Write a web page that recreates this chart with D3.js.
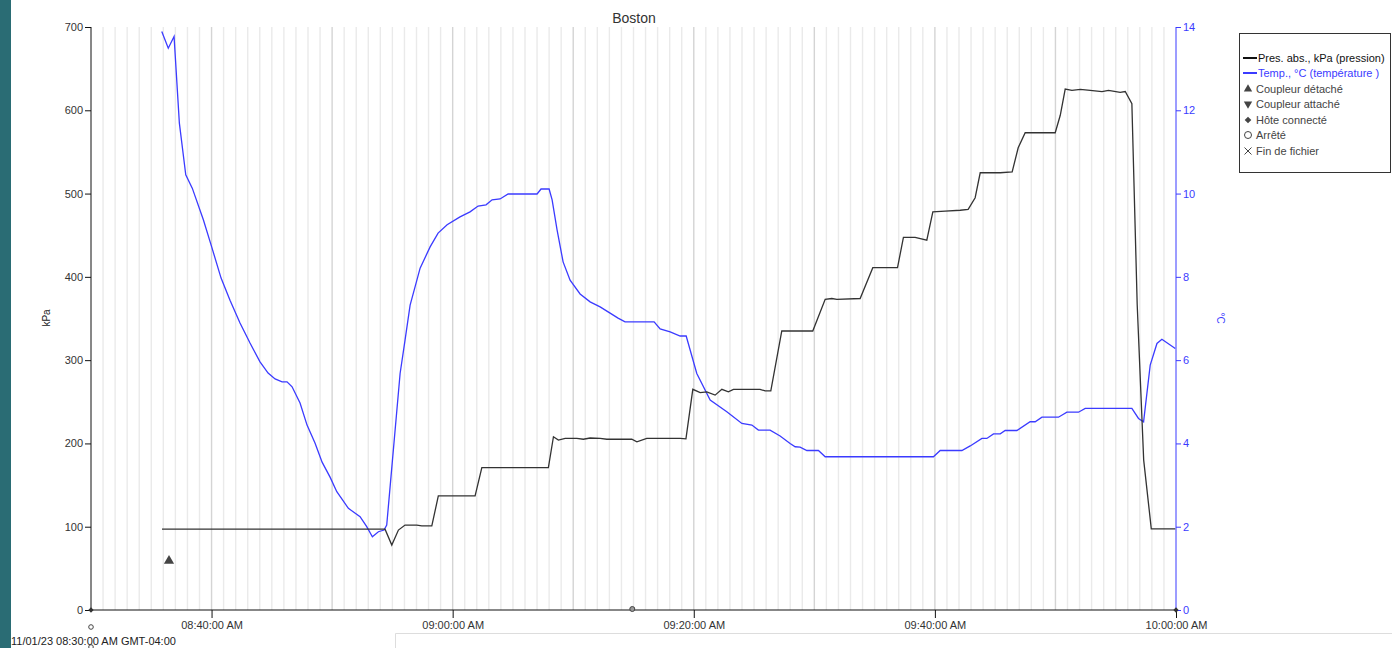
<!DOCTYPE html>
<html><head><meta charset="utf-8">
<script src="https://cdn.jsdelivr.net/npm/d3@7"></script>
<style>
html,body{margin:0;padding:0;background:#fff;}
svg{display:block;font-family:"Liberation Sans",Arial,sans-serif;}
</style></head>
<body>
<svg id="chart" width="1392" height="648"></svg>
<script>
// ---- data (minutes after 08:30:00) ----
const title = "Boston";
const startLabel = "11/01/23 08:30:00 AM GMT-04:00";
const pressureLabel = "kPa";
const tempLabel = "°C";
const legendItems = ["Pres. abs., kPa (pression)", "Temp., °C (température )", "Coupleur détaché", "Coupleur attaché", "Hôte connecté", "Arrêté", "Fin de fichier"];
const xTickLabels = ["08:40:00 AM", "09:00:00 AM", "09:20:00 AM", "09:40:00 AM", "10:00:00 AM"];
const xTickMinutes = [10, 30, 50, 70, 90];
const pTickValues = [0, 100, 200, 300, 400, 500, 600, 700];
const tTickValues = [0, 2, 4, 6, 8, 10, 12, 14];

const pressureTimes = [5.89, 24.39, 24.95, 25.50, 26.05, 27.02, 27.44, 28.27, 28.81, 31.86, 32.42, 37.94, 38.36, 38.77, 39.33, 40.30, 40.84, 41.40, 42.23, 42.79, 44.86, 45.28, 46.10, 48.87, 49.35, 49.92, 50.53, 51.08, 51.77, 52.33, 52.87, 53.29, 55.50, 55.92, 56.39, 57.30, 59.87, 60.90, 61.45, 61.87, 63.80, 64.85, 66.90, 67.39, 68.36, 69.33, 69.83, 70.85, 72.10, 72.76, 73.34, 73.76, 75.42, 76.41, 76.91, 77.49, 79.98, 80.40, 80.81, 81.37, 82.06, 82.88, 83.86, 84.40, 85.37, 85.79, 86.34, 86.78, 87.32, 87.95, 89.94];
const pressureValues = [97, 97, 78, 96, 102, 102, 101, 101, 137, 137, 171, 171, 208, 204, 206, 206, 205, 206.5, 206, 205, 205, 202, 206, 206, 205.5, 265, 261, 262, 258, 265, 262, 265, 265, 263, 263, 335, 335, 373, 374, 373, 374, 411, 411, 447.5, 447.5, 444, 478, 479, 480, 481, 495, 525, 525, 526, 555, 573, 573, 594, 625.5, 624, 625, 624, 622.5, 624, 621.5, 622.5, 608, 367, 180, 97.5, 97.5];

const tempTimes = [5.87, 6.41, 6.89, 7.33, 7.86, 8.40, 9.32, 10.01, 10.79, 11.53, 12.36, 13.19, 14.02, 14.69, 15.27, 15.85, 16.26, 16.68, 17.34, 17.92, 18.58, 19.17, 19.83, 20.39, 21.35, 22.32, 22.87, 23.34, 23.84, 24.31, 24.53, 25.64, 26.05, 26.47, 27.30, 28.13, 28.79, 29.54, 30.61, 31.44, 32.11, 32.77, 33.27, 33.93, 34.60, 37.00, 37.33, 38.00, 38.25, 38.66, 39.16, 39.74, 40.57, 41.40, 42.23, 43.06, 43.72, 44.30, 46.71, 47.21, 48.04, 48.87, 49.37, 50.25, 51.36, 52.74, 53.99, 54.82, 55.36, 56.33, 57.16, 57.99, 58.41, 58.82, 59.38, 60.34, 60.90, 69.88, 70.44, 72.24, 72.93, 73.90, 74.31, 74.86, 75.42, 75.83, 76.80, 77.90, 78.32, 78.88, 80.25, 80.95, 81.91, 82.47, 86.34, 86.89, 87.31, 87.86, 88.42, 88.83, 89.94];
const tempValues = [13.89, 13.49, 13.77, 11.69, 10.45, 10.13, 9.37, 8.72, 7.97, 7.44, 6.89, 6.41, 5.96, 5.69, 5.55, 5.48, 5.48, 5.36, 4.97, 4.44, 4.01, 3.55, 3.19, 2.84, 2.44, 2.24, 2.00, 1.76, 1.88, 1.92, 2.04, 5.68, 6.48, 7.32, 8.21, 8.72, 9.05, 9.25, 9.44, 9.56, 9.70, 9.73, 9.85, 9.87, 9.99, 9.99, 10.11, 10.11, 9.85, 9.13, 8.36, 7.92, 7.59, 7.40, 7.28, 7.13, 7.01, 6.92, 6.92, 6.75, 6.68, 6.58, 6.58, 5.68, 5.04, 4.76, 4.48, 4.44, 4.32, 4.32, 4.18, 4.00, 3.92, 3.91, 3.83, 3.83, 3.68, 3.68, 3.83, 3.83, 3.94, 4.12, 4.12, 4.23, 4.23, 4.31, 4.31, 4.52, 4.52, 4.63, 4.63, 4.75, 4.75, 4.84, 4.84, 4.60, 4.52, 5.88, 6.40, 6.50, 6.28];

const detachTimes = [6.47];
const detachValues = [59];
const stopAxisTimes = [44.9];

// ---- setup ----
const svg = d3.select("#chart");
const t0 = new Date(2023, 10, 1, 8, 30, 0);
const t1 = new Date(2023, 10, 1, 10, 0, 0);
const toDate = m => new Date(t0.getTime() + m * 60000);
const x = d3.scaleTime().domain([t0, t1]).range([91, 1176]);
const yP = d3.scaleLinear().domain([0, 700]).range([610, 27]);
const yT = d3.scaleLinear().domain([0, 14]).range([610, 27]);
const blue = "#3b3bff";
const ink = "#333";

// left teal strip
svg.append("rect").attr("x", 0).attr("y", 0).attr("width", 11).attr("height", 648).attr("fill", "#2a6c74");

// bottom panel border
svg.append("path").attr("d", "M395.5,648 V633.5 H1392").attr("fill", "none").attr("stroke", "#ddd");

// grid (every minute)
const minutes = d3.range(1, 90);
svg.append("g").selectAll("line").data(minutes).join("line")
  .attr("x1", d => x(toDate(d))).attr("x2", d => x(toDate(d)))
  .attr("y1", 27).attr("y2", 610)
  .attr("stroke", d => d % 10 === 0 ? "#d4d4d4" : "#eaeaea")
  .attr("stroke-width", 1.4);

// title
svg.append("text").attr("x", 634).attr("y", 23).attr("text-anchor", "middle")
  .attr("font-size", 14).attr("fill", ink).text(title);

// left axis
const gL = svg.append("g").attr("transform", "translate(91,0)");
gL.call(d3.axisLeft(yP).tickValues(d3.range(0, 701, 10)).tickSize(4).tickFormat(""));
gL.call(d3.axisLeft(yP).tickValues(pTickValues).tickSize(6).tickSizeOuter(0).tickPadding(2));
gL.selectAll("path,line").attr("stroke", "#111");
gL.selectAll("text").attr("font-size", 11).attr("fill", ink).attr("font-family", "Liberation Sans, Arial, sans-serif");
gL.selectAll(".domain").remove();
svg.append("line").attr("x1", 91).attr("x2", 91).attr("y1", 27).attr("y2", 610).attr("stroke", "#111");

// right axis
const gR = svg.append("g").attr("transform", "translate(1176,0)");
gR.call(d3.axisRight(yT).tickValues(d3.range(0, 15, 1)).tickSize(5).tickFormat(""));
gR.call(d3.axisRight(yT).tickValues(tTickValues).tickSize(5).tickSizeOuter(0).tickPadding(2));
gR.selectAll("path,line").attr("stroke", blue);
gR.selectAll("text").attr("font-size", 11).attr("fill", blue).attr("font-family", "Liberation Sans, Arial, sans-serif");
gR.selectAll(".domain").remove();
svg.append("line").attr("x1", 1176).attr("x2", 1176).attr("y1", 27).attr("y2", 610).attr("stroke", blue);

// axis titles
svg.append("text").attr("transform", "translate(50,318) rotate(-90)").attr("text-anchor", "middle")
  .attr("font-size", 10).attr("fill", "#222").text(pressureLabel);
svg.append("text").attr("transform", "translate(1217,318) rotate(90)").attr("text-anchor", "middle")
  .attr("font-size", 10).attr("fill", blue).text(tempLabel);

// bottom axis
const gB = svg.append("g").attr("transform", "translate(0,610)");
gB.call(d3.axisBottom(x).ticks(d3.timeMinute.every(1)).tickSize(4).tickFormat(""));
gB.call(d3.axisBottom(x).tickValues(xTickMinutes.map(toDate)).tickSize(8).tickSizeOuter(0).tickPadding(3)
  .tickFormat((d, i) => xTickLabels[i]));
gB.selectAll("path,line").attr("stroke", "#111");
gB.selectAll(".domain").remove();
gB.selectAll("text").attr("font-size", 11).attr("fill", ink).attr("font-family", "Liberation Sans, Arial, sans-serif");
svg.append("line").attr("x1", 91).attr("x2", 1176).attr("y1", 610).attr("y2", 610).attr("stroke", "#111");

svg.append("text").attr("x", 11).attr("y", 645).attr("font-size", 11).attr("fill", "#222").text(startLabel);

// lines
const pData = pressureTimes.map((t, i) => [toDate(t), pressureValues[i]]);
const tData = tempTimes.map((t, i) => [toDate(t), tempValues[i]]);
svg.append("path").datum(tData).attr("fill", "none").attr("stroke", blue).attr("stroke-width", 1.3)
  .attr("d", d3.line().x(d => x(d[0])).y(d => yT(d[1])));
svg.append("path").datum(pData).attr("fill", "none").attr("stroke", ink).attr("stroke-width", 1.3)
  .attr("d", d3.line().x(d => x(d[0])).y(d => yP(d[1])));

// event markers
const tri = d3.symbol().type(d3.symbolTriangle).size(45);
svg.append("g").selectAll("path").data(detachTimes).join("path")
  .attr("transform", (d, i) => `translate(${x(toDate(d))},${yP(detachValues[i])})`)
  .attr("d", tri).attr("fill", "#444");
svg.append("g").selectAll("circle").data(stopAxisTimes).join("circle")
  .attr("cx", d => x(toDate(d))).attr("cy", 609).attr("r", 2.5)
  .attr("fill", "#999").attr("stroke", "#444");
svg.append("circle").attr("cx", x(t0)).attr("cy", 627).attr("r", 2.3).attr("fill", "none").attr("stroke", "#444");
svg.append("circle").attr("cx", x(t0)).attr("cy", 647).attr("r", 2.3).attr("fill", "none").attr("stroke", "#444");
const dia = d3.symbol().type(d3.symbolSquare).size(14);
[t0, t1].forEach(t => svg.append("path").attr("transform", `translate(${x(t)},610) rotate(45)`).attr("d", dia).attr("fill", "#333"));

// legend
const lg = svg.append("g");
lg.append("rect").attr("x", 1239.5).attr("y", 33.5).attr("width", 151).attr("height", 139)
  .attr("fill", "#fff").attr("stroke", "#333");
const rowY = [58, 73, 89, 104, 120, 135, 151];
const rowColor = ["#111", blue, "#444", "#444", "#444", "#444", "#444"];
legendItems.forEach((s, i) => {
  const y = rowY[i];
  if (i < 2) {
    lg.append("line").attr("x1", 1243).attr("x2", 1257).attr("y1", y).attr("y2", y)
      .attr("stroke", rowColor[i]).attr("stroke-width", 2);
  } else if (i === 2) {
    lg.append("path").attr("transform", `translate(1248,${y})`).attr("d", d3.symbol().type(d3.symbolTriangle).size(30)).attr("fill", "#444");
  } else if (i === 3) {
    lg.append("path").attr("transform", `translate(1248,${y}) rotate(180)`).attr("d", d3.symbol().type(d3.symbolTriangle).size(30)).attr("fill", "#444");
  } else if (i === 4) {
    lg.append("path").attr("transform", `translate(1248,${y}) rotate(45)`).attr("d", d3.symbol().type(d3.symbolSquare).size(22)).attr("fill", "#444");
  } else if (i === 5) {
    lg.append("circle").attr("cx", 1248).attr("cy", y).attr("r", 3.5).attr("fill", "none").attr("stroke", "#444");
  } else {
    lg.append("path").attr("transform", `translate(1248,${y})`).attr("d", "M-3.5,-3.5L3.5,3.5M-3.5,3.5L3.5,-3.5").attr("stroke", "#444").attr("fill", "none");
  }
  lg.append("text").attr("x", 1256 + (i < 2 ? 2 : 0)).attr("y", y + 4).attr("font-size", 11)
    .attr("fill", rowColor[i]).text(s);
});
</script>
</body></html>
